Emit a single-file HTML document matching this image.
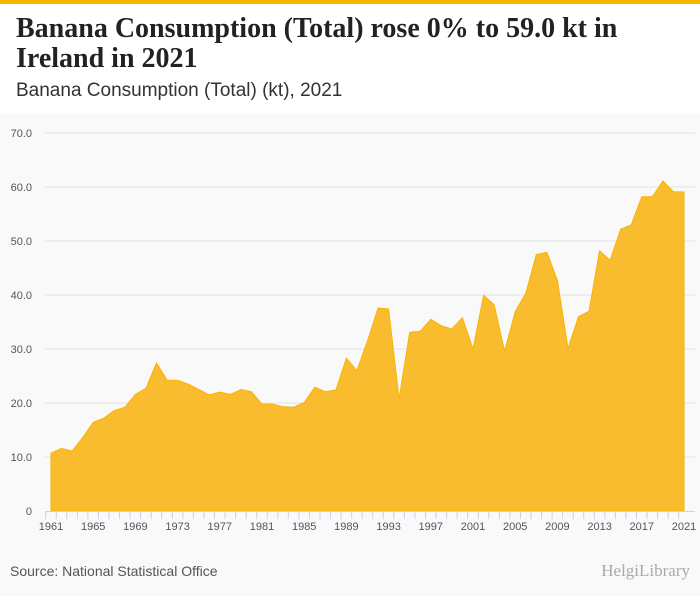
<!DOCTYPE html>
<html><head><meta charset="utf-8"><style>
body{margin:0;width:700px;height:596px;background:#fff;font-family:"Liberation Sans",sans-serif;overflow:hidden;position:relative}
#topbar{position:absolute;left:0;top:0;width:700px;height:4px;background:#f7b500}
#title{position:absolute;left:16px;top:14px;font-family:"Liberation Serif",serif;font-weight:bold;font-size:28px;line-height:30px;color:#222;width:620px}
#subtitle{position:absolute;left:16px;top:80px;font-size:19px;color:#333}
#chartbg{position:absolute;left:0;top:114px;width:700px;height:482px;background:#f9f9f9}
svg{position:absolute;left:0;top:0}
#source{position:absolute;left:10px;top:563px;font-size:14px;color:#555}
#logo{position:absolute;right:10px;top:561px;font-size:17px;color:#aaa;font-family:"Liberation Serif",serif}
</style></head><body>
<div id="topbar"></div>
<div id="title">Banana Consumption (Total) rose 0% to 59.0 kt in Ireland in 2021</div>
<div id="subtitle">Banana Consumption (Total) (kt), 2021</div>
<div id="chartbg"></div>
<svg id="chart" width="700" height="596"></svg>
<div id="source">Source: National Statistical Office</div>
<div id="logo">HelgiLibrary</div>
<script>
const years=[];for(let y=1961;y<=2021;y++)years.push(y);
const values=[10.7,11.6,11.1,13.6,16.4,17.2,18.6,19.2,21.6,22.7,27.4,24.2,24.2,23.5,22.5,21.5,22.0,21.6,22.5,22.1,19.8,19.8,19.3,19.2,20.1,22.9,22.1,22.4,28.3,26.0,31.5,37.6,37.4,20.8,33.1,33.3,35.5,34.3,33.7,35.8,30.0,39.9,38.2,29.6,36.9,40.3,47.5,47.9,42.7,30.1,36.0,37.0,48.2,46.4,52.2,53.0,58.2,58.2,61.1,59.1,59.1];
const yTicks=[0,10,20,30,40,50,60,70];
const yTickLabels=["0","10.0","20.0","30.0","40.0","50.0","60.0","70.0"];
const ns="http://www.w3.org/2000/svg";
const svg=document.getElementById('chart');
const X0=51,X1=684,Y0=511,Y70=133;
const xs=y=>X0+(y-1961)*(X1-X0)/(2021-1961);
const ys=v=>Y0-v*(Y0-Y70)/70;
function mk(t,a){const e=document.createElementNS(ns,t);for(const k in a)e.setAttribute(k,a[k]);svg.appendChild(e);return e;}
yTicks.forEach((v,i)=>{
 if(v>0){const g=mk('line',{x1:45,x2:695,y1:ys(v),y2:ys(v),stroke:'#e3e3e3','stroke-width':1});
 
 }
 const t=mk('text',{x:32,y:ys(v)+4,'text-anchor':'end','font-size':11,fill:'#555','font-family':'Liberation Sans, sans-serif'});
 t.textContent=yTickLabels[i];
 
 
});
let d='M'+xs(years[0])+','+Y0;
years.forEach((y,i)=>{d+=' L'+xs(y).toFixed(1)+','+ys(values[i]).toFixed(1);});
d+=' L'+xs(years[years.length-1])+','+Y0+' Z';
const area=mk('path',{d:d,fill:'#f9bc2f',stroke:'#f7b500','stroke-width':1});


const ax=mk('line',{x1:45,x2:695,y1:Y0+0.5,y2:Y0+0.5,stroke:'#c8d3e6','stroke-width':1});


years.forEach(y=>{
 const tk=mk('line',{x1:xs(y)-5.3,x2:xs(y)-5.3,y1:Y0,y2:Y0+8,stroke:'#c8d3e6','stroke-width':1});
 
 
 if((y-1961)%4===0){
  const t=mk('text',{x:xs(y),y:Y0+19,'text-anchor':'middle','font-size':11,fill:'#555','font-family':'Liberation Sans, sans-serif'});
  t.textContent=y;
  
  
 }
});
</script>
</body></html>
